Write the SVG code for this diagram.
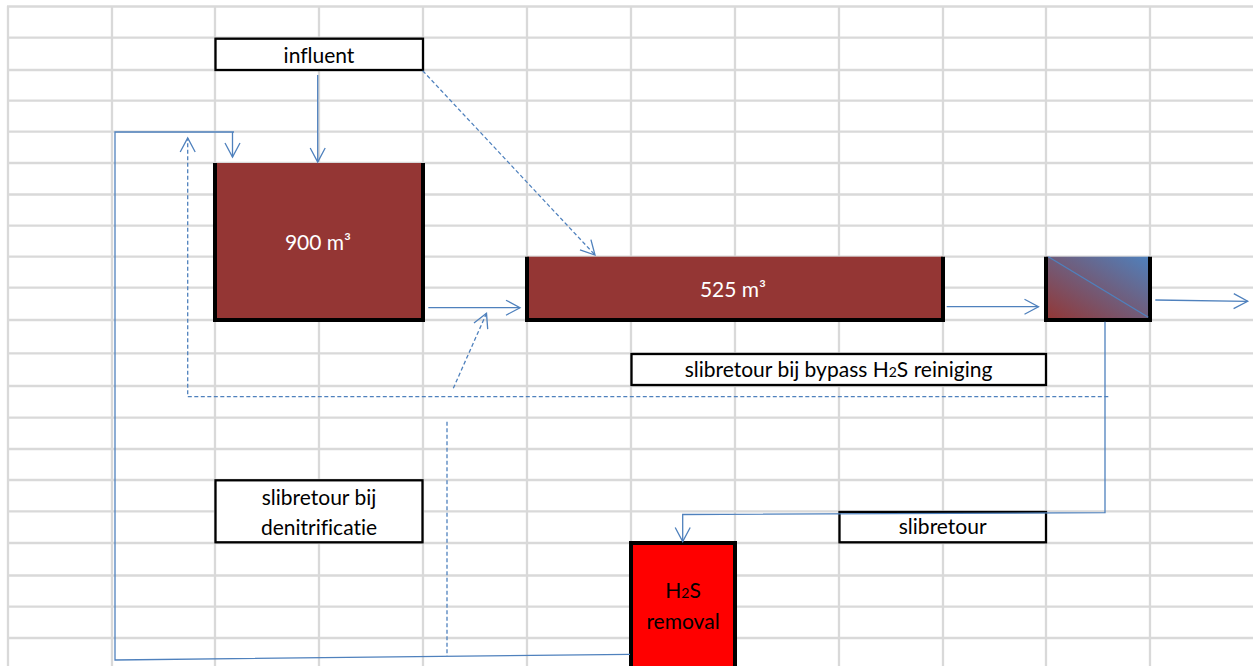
<svg xmlns="http://www.w3.org/2000/svg" width="1253" height="666" viewBox="0 0 1253 666">
  <style>
    .grid line { stroke: #d9d9d9; stroke-width: 2.3; }
    .label { fill: #ffffff; stroke: #000000; stroke-width: 2.3; }
    .tank-edge { fill: none; stroke: #000000; stroke-width: 4; }
    .txt { font-family: Lato, "Liberation Sans", sans-serif; font-size: 21px; fill: #000000; text-anchor: middle; font-variant-ligatures: none; font-feature-settings: "liga" 0; }
    .txt-light { fill: #ffffff; }
    .flow { fill: none; stroke: #4f81bd; stroke-width: 1.3; }
    .dash { stroke-dasharray: 4 2.5; }
  </style>
  <defs>
    <marker id="arrow" markerUnits="userSpaceOnUse" markerWidth="20" markerHeight="20" viewBox="-16 -10 20 20" refX="0" refY="0" orient="auto">
      <path d="M-14,-7.5 L0,0 L-14,7.5" fill="none" stroke="#4f81bd" stroke-width="1.3"/>
    </marker>
    <linearGradient id="mixGrad" x1="0" y1="1" x2="1" y2="0">
      <stop offset="0" stop-color="#943634"/>
      <stop offset="1" stop-color="#4f81bd"/>
    </linearGradient>
  </defs>

  <rect width="1253" height="666" fill="#ffffff"/>

  <!-- spreadsheet grid -->
  <g class="grid">
    <line x1="8" y1="6" x2="8" y2="666"/>
    <line x1="112" y1="6" x2="112" y2="666"/>
    <line x1="215" y1="6" x2="215" y2="666"/>
    <line x1="319" y1="6" x2="319" y2="666"/>
    <line x1="423" y1="6" x2="423" y2="666"/>
    <line x1="527" y1="6" x2="527" y2="666"/>
    <line x1="631" y1="6" x2="631" y2="666"/>
    <line x1="735" y1="6" x2="735" y2="666"/>
    <line x1="839" y1="6" x2="839" y2="666"/>
    <line x1="943" y1="6" x2="943" y2="666"/>
    <line x1="1046" y1="6" x2="1046" y2="666"/>
    <line x1="1150" y1="6" x2="1150" y2="666"/>
    <line x1="7" y1="6.5" x2="1253" y2="6.5"/>
    <line x1="7" y1="37.7" x2="1253" y2="37.7"/>
    <line x1="7" y1="70" x2="1253" y2="70"/>
    <line x1="7" y1="100.7" x2="1253" y2="100.7"/>
    <line x1="7" y1="131.7" x2="1253" y2="131.7"/>
    <line x1="7" y1="163" x2="1253" y2="163"/>
    <line x1="7" y1="194.5" x2="1253" y2="194.5"/>
    <line x1="7" y1="225.7" x2="1253" y2="225.7"/>
    <line x1="7" y1="256.7" x2="1253" y2="256.7"/>
    <line x1="7" y1="287.7" x2="1253" y2="287.7"/>
    <line x1="7" y1="320" x2="1253" y2="320"/>
    <line x1="7" y1="353.3" x2="1253" y2="353.3"/>
    <line x1="7" y1="386" x2="1253" y2="386"/>
    <line x1="7" y1="417.7" x2="1253" y2="417.7"/>
    <line x1="7" y1="449" x2="1253" y2="449"/>
    <line x1="7" y1="480" x2="1253" y2="480"/>
    <line x1="7" y1="511.3" x2="1253" y2="511.3"/>
    <line x1="7" y1="543" x2="1253" y2="543"/>
    <line x1="7" y1="575.5" x2="1253" y2="575.5"/>
    <line x1="7" y1="606.7" x2="1253" y2="606.7"/>
    <line x1="7" y1="638" x2="1253" y2="638"/>
  </g>

  <!-- nodes -->
  <g id="influent">
    <rect class="label" x="215.5" y="38.7" width="207.5" height="31.3"/>
    <text class="txt" x="319" y="63">influent</text>
  </g>

  <g id="tank-900">
    <rect x="215" y="163" width="208" height="157" fill="#943634"/>
    <path class="tank-edge" d="M215,163 V320 H423 V163"/>
    <text class="txt txt-light" x="318" y="250">900 m³</text>
  </g>

  <g id="tank-525">
    <rect x="527" y="256.7" width="416" height="63.3" fill="#943634"/>
    <path class="tank-edge" d="M527,256.7 V320 H943 V256.7"/>
    <text class="txt txt-light" x="733" y="297">525 m³</text>
  </g>

  <g id="separator">
    <rect x="1046" y="256.7" width="104" height="63.3" fill="url(#mixGrad)"/>
    <path class="tank-edge" d="M1046,256.7 V320 H1150 V256.7"/>
    <line x1="1048.3" y1="256.7" x2="1148.3" y2="317.3" stroke="#4f81bd" stroke-width="1.3"/>
  </g>

  <g id="label-bypass">
    <rect class="label" x="631.5" y="354" width="414.5" height="31"/>
    <text class="txt" x="838.5" y="377">slibretour bij bypass H<tspan font-size="14">2</tspan>S reiniging</text>
  </g>

  <g id="label-denitrificatie">
    <rect class="label" x="215.5" y="480.3" width="207" height="62"/>
    <text class="txt" x="319" y="505">slibretour bij</text>
    <text class="txt" x="319" y="535">denitrificatie</text>
  </g>

  <g id="label-slibretour">
    <rect class="label" x="839.5" y="512" width="206.5" height="30.3"/>
    <text class="txt" x="942.7" y="534.3">slibretour</text>
  </g>

  <g id="h2s-removal">
    <rect x="631" y="543" width="104" height="130" fill="#ff0000"/>
    <path class="tank-edge" d="M631,672 V543 H735 V672"/>
    <text class="txt" x="683" y="598.3">H<tspan font-size="14">2</tspan>S</text>
    <text class="txt" x="683" y="629.3">removal</text>
  </g>

  <!-- connectors -->
  <g id="connectors">
    <path class="flow" d="M317.7,75 V162" marker-end="url(#arrow)"/>
    <path class="flow" d="M630,654.3 L115,660 V132 H234 M232.5,132 V157" marker-end="url(#arrow)"/>
    <path class="flow dash" d="M1108.3,396.7 H187.7 V138" marker-end="url(#arrow)"/>
    <path class="flow dash" d="M447,421.7 V656"/>
    <path class="flow dash" d="M453.3,388.3 L486.5,313.3" marker-end="url(#arrow)"/>
    <path class="flow dash" d="M422.7,70.7 L595,255" marker-end="url(#arrow)"/>
    <path class="flow" d="M428.3,307.7 H520" marker-end="url(#arrow)"/>
    <path class="flow" d="M946.7,306.7 H1038.5" marker-end="url(#arrow)"/>
    <path class="flow" d="M1155.3,300 L1247.7,301.3" marker-end="url(#arrow)"/>
    <path class="flow" d="M1105,321.7 V512.7 L682.7,514.5 V541.5" marker-end="url(#arrow)"/>
  </g>
</svg>
